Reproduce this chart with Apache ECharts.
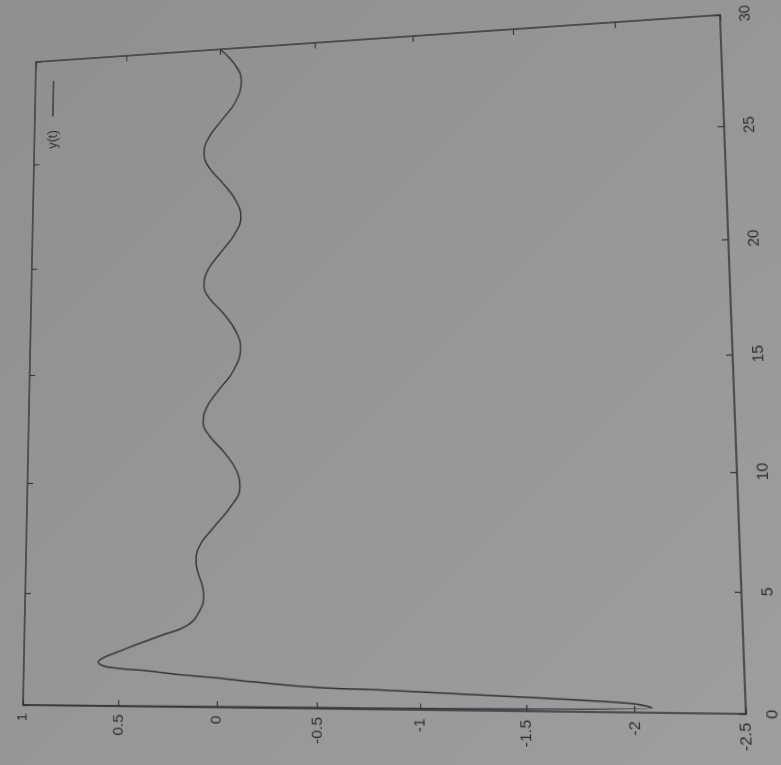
<!DOCTYPE html>
<html>
<head>
<meta charset="utf-8">
<script src="https://cdn.jsdelivr.net/npm/echarts@6/dist/echarts.min.js"></script>
<style>
  html, body { margin: 0; padding: 0; width: 781px; height: 765px; overflow: hidden; }
  body { background: linear-gradient(135deg, #8f8f91 0%, #969698 50%, #9e9ea0 100%); }
  #chart { width: 781px; height: 765px; transform-origin: 0 0; }
</style>
</head>
<body>
<div id="chart"></div>
<script>
// Time samples t (s) of the simulated response
const timeValues = [
  0, 0.2, 0.37, 0.57, 0.79, 0.95, 1.23, 1.5, 1.93, 2.55, 3.1, 3.58, 4.25, 4.85, 5.3, 5.9,
  6.35, 7.0, 7.9, 8.8, 9.65, 10.4, 11.2, 12.0, 12.6, 13.3, 14.1, 14.9, 15.95, 16.7, 17.5,
  18.3, 18.9, 19.6, 20.4, 21.2, 22.0, 22.8, 23.6, 24.4, 25.1, 25.8, 26.6, 27.4, 28.4, 29.2, 30.0
];
// Response y(t) at those samples
const responseValues = [
  1.0, -2.08, -1.99, -1.53, -0.90, -0.41, -0.05, 0.29, 0.61, 0.46, 0.29, 0.15, 0.087, 0.07, 0.077, 0.10,
  0.11, 0.097, 0.02, -0.065, -0.112, -0.095, -0.035, 0.045, 0.078, 0.06, -0.005, -0.075, -0.113, -0.09, -0.03,
  0.05, 0.078, 0.058, -0.01, -0.08, -0.113, -0.085, -0.02, 0.055, 0.082, 0.058, -0.01, -0.08, -0.113, -0.08, 0.0
];
const seriesName = 'y(t)';

const ink = '#35353a';
const labelFont = { color: '#2e2e33', fontSize: 15, fontFamily: 'Liberation Sans, Arial, sans-serif' };

// Plot area inside the chart box, and where the printed sheet puts its corners on the page
const plotRect = { left: 30, top: 38, right: 734, bottom: 710 };
const sheetCorners = [[36, 62], [720, 15], [23, 705], [746, 714]];

// Solve the projective map taking the plot rectangle's corners onto the sheet corners
function solveProjective(src, dst) {
  const A = [];
  for (let i = 0; i < 4; i++) {
    const [x, y] = src[i], [u, v] = dst[i];
    A.push([x, y, 1, 0, 0, 0, -u * x, -u * y, u]);
    A.push([0, 0, 0, x, y, 1, -v * x, -v * y, v]);
  }
  const n = 8;
  for (let c = 0; c < n; c++) {
    let p = c;
    for (let r = c + 1; r < n; r++) if (Math.abs(A[r][c]) > Math.abs(A[p][c])) p = r;
    [A[c], A[p]] = [A[p], A[c]];
    for (let r = 0; r < n; r++) {
      if (r === c) continue;
      const f = A[r][c] / A[c][c];
      for (let k = c; k <= n; k++) A[r][k] -= f * A[c][k];
    }
  }
  return A.map((row, i) => row[n] / row[i]);
}

const srcCorners = [
  [plotRect.left, plotRect.top], [plotRect.right, plotRect.top],
  [plotRect.left, plotRect.bottom], [plotRect.right, plotRect.bottom]
];
const h = solveProjective(srcCorners, sheetCorners);

// sanity check of the solved map on the four corners
srcCorners.forEach(([x, y], i) => {
  const w = h[6] * x + h[7] * y + 1;
  const u = (h[0] * x + h[1] * y + h[2]) / w;
  const v = (h[3] * x + h[4] * y + h[5]) / w;
  if (Math.abs(u - sheetCorners[i][0]) > 0.5 || Math.abs(v - sheetCorners[i][1]) > 0.5) {
    throw new Error('corner ' + i + ' maps to ' + u.toFixed(1) + ',' + v.toFixed(1));
  }
});

const el = document.getElementById('chart');
el.style.transform = 'matrix3d(' +
  [h[0], h[3], 0, h[6], h[1], h[4], 0, h[7], 0, 0, 1, 0, h[2], h[5], 0, 1].join(',') + ')';

// The plot is laid out turned a quarter turn: response on the horizontal axis, time on the vertical one.
const points = timeValues.map((t, i) => [responseValues[i], t]);

const chart = echarts.init(el, null, { renderer: 'canvas' });

const frameLine = { show: true, onZero: false, lineStyle: { color: ink, width: 1.5 } };
const innerTick = { show: true, inside: true, length: 6, lineStyle: { color: ink, width: 1.2 } };

chart.setOption({
  backgroundColor: 'transparent',
  animation: false,
  grid: {
    left: plotRect.left, top: plotRect.top,
    right: 781 - plotRect.right, bottom: 765 - plotRect.bottom, containLabel: false
  },
  xAxis: [
    {
      type: 'value', min: -2.5, max: 1, interval: 0.5, inverse: true, position: 'bottom',
      axisLine: frameLine, axisTick: innerTick, splitLine: { show: false },
      axisLabel: Object.assign({ rotate: 90, margin: 8 }, labelFont)
    },
    {
      type: 'value', min: -2.5, max: 1, interval: 0.5, inverse: true, position: 'top',
      axisLine: frameLine, axisTick: innerTick, splitLine: { show: false },
      axisLabel: { show: false }
    }
  ],
  yAxis: [
    {
      type: 'value', min: 0, max: 30, interval: 5, position: 'right',
      axisLine: frameLine, axisTick: innerTick, splitLine: { show: false },
      axisLabel: Object.assign({ rotate: 90, margin: 16 }, labelFont)
    },
    {
      type: 'value', min: 0, max: 30, interval: 5, position: 'left',
      axisLine: frameLine, axisTick: innerTick, splitLine: { show: false },
      axisLabel: { show: false }
    }
  ],
  series: [
    {
      name: seriesName,
      type: 'line',
      xAxisIndex: 0,
      yAxisIndex: 0,
      data: points,
      showSymbol: false,
      smooth: 0.45,
      lineStyle: { color: ink, width: 1.5 }
    }
  ],
  graphic: [
    // key sample line and its label, turned with the plot
    { type: 'line', shape: { x1: 50, y1: 60, x2: 50, y2: 99 }, style: { stroke: ink, lineWidth: 1.5 } },
    {
      type: 'text', x: 51, y: 124, rotation: Math.PI / 2,
      style: { text: seriesName, font: '14px Liberation Sans, Arial, sans-serif', fill: '#2e2e33', align: 'center', verticalAlign: 'middle' }
    }
  ]
});
</script>
</body>
</html>
